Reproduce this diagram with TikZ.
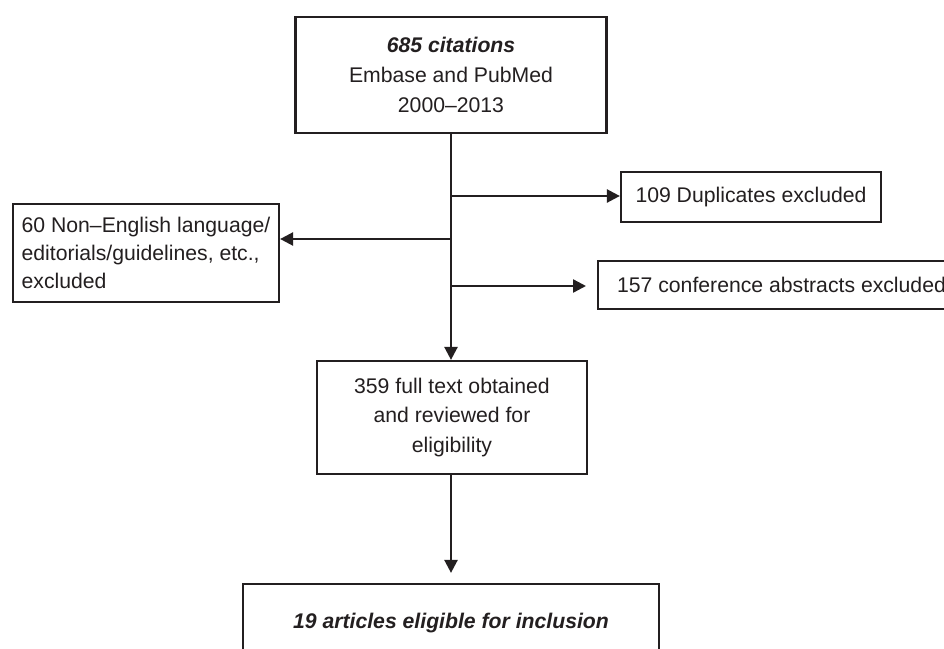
\documentclass[tikz,border=0pt]{standalone}
\usepackage{fontspec}
\setmainfont{Liberation Sans}
\usetikzlibrary{arrows.meta}
\definecolor{ink}{HTML}{231F20}
\begin{document}
\begin{tikzpicture}[x=0.5pt,y=-0.5pt,
  box/.style={draw=ink, text=ink, line width=1.1pt, inner sep=0pt, align=center,
    font=\fontsize{10.6}{14.8}\selectfont},
  arr/.style={-{Triangle[length=6.5pt,width=6.5pt]}, line width=1.2pt, draw=ink}]
\useasboundingbox (0,0) rectangle (944,649);
\clip (0,0) rectangle (944,649);
\fill[white] (0,0) rectangle (944,649);
\node[box, minimum width=155.5pt, minimum height=58pt] (top) at (451,75)
  {\textbf{\textit{685 citations}}\\Embase and PubMed\\2000–2013};
\node[box, minimum width=130pt, minimum height=25pt] (dup) at (751,197)
  {109 Duplicates excluded};
\node[box, align=left, minimum width=133pt, minimum height=49pt,
  font=\fontsize{10.6}{14}\selectfont] (noneng) at (146,253)
  {60 Non–English language/\\editorials/guidelines, etc.,\\excluded};
\node[box, anchor=west, inner xsep=9.5pt, minimum height=24pt] (conf) at (597,285)
  {157 conference abstracts excluded};
\node[box, minimum width=135pt, minimum height=56.5pt] (full) at (452,417.5)
  {359 full text obtained\\and reviewed for\\eligibility};
\node[box, minimum width=208pt, minimum height=39pt] (final) at (451,623)
  {\textbf{\textit{19 articles eligible for inclusion}}};
\coordinate (j1) at (451,196);
\coordinate (j2) at (451,239);
\coordinate (j3) at (451,286);
\draw[arr] (top.south -| j1) -- (j1 |- full.north);
\draw[arr] (j1) -- (j1 -| dup.west);
\draw[arr] (j2) -- (j2 -| noneng.east);
\draw[arr, shorten >=5.5pt] (j3) -- (j3 -| conf.west);
\draw[arr, shorten >=5pt] (full.south -| j1) -- (j1 |- final.north);
\end{tikzpicture}
\end{document}
